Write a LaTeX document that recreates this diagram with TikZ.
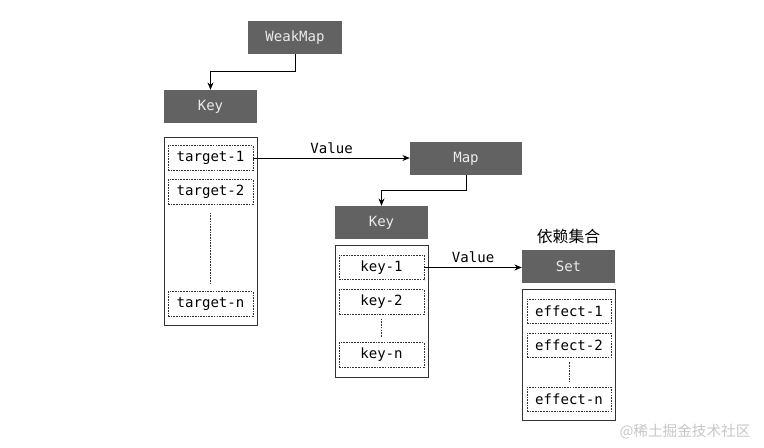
\documentclass[tikz,border=0pt]{standalone}
\usepackage{fontspec}
\setmonofont{DejaVu Sans Mono}
\newfontfamily\cjk{Noto Sans CJK SC}
\usepackage{xcolor}
\usetikzlibrary{arrows.meta}
\definecolor{boxgray}{HTML}{626262}
\definecolor{linegray}{HTML}{333333}
\tikzset{headbox/.style={fill=boxgray,draw=none,text=white!92!black,inner sep=0pt,
   minimum height=0.99cm,font=\ttfamily\fontsize{12}{14}\selectfont},
 listbox/.style={draw=linegray,line width=0.8pt,inner sep=0pt,minimum width=2.79cm},
 itembox/.style={draw=linegray,dash pattern=on 1.4pt off 0.9pt,line width=0.7pt,inner sep=0pt,
   minimum width=2.55cm,minimum height=0.74cm,font=\ttfamily\fontsize{12}{14}\selectfont},
 link/.style={draw=black,line width=0.8pt,-{Stealth[length=2.2mm,width=1.8mm]}},
 gap/.style={draw=linegray,dash pattern=on 1.4pt off 0.9pt,line width=0.7pt},
 }

\begin{document}
\begin{tikzpicture}[x=0.03cm,y=-0.03cm]
    \useasboundingbox (0,0) rectangle (764,447);
    % first level
    \node[headbox,minimum width=2.82cm] (weakmap) at (295,37.5) {WeakMap};
    \node[headbox,minimum width=2.79cm] (keyA) at (210.5,106.5) {Key};
    \node[listbox,minimum height=5.64cm] (listA) at (210.5,231) {};
    \node[itembox] (tgtA) at (210.5,158) {target-1};
    \node[itembox] (tgtB) at (210.5,192) {target-2};
    \node[itembox] (tgtN) at (210.5,304) {target-n};
    \draw[gap,shorten <=2.4mm,shorten >=2mm] (tgtB.south) -- (tgtN.north);
    % second level
    \node[headbox,minimum width=3.36cm] (map) at (466,158.5) {Map};
    \node[headbox,minimum width=2.79cm] (keyB) at (381.5,222.5) {Key};
    \node[listbox,minimum height=3.96cm] (listB) at (381.5,311) {};
    \node[itembox] (kA) at (381.5,267.5) {key-1};
    \node[itembox] (kB) at (381.5,302) {key-2};
    \node[itembox] (kN) at (381.5,355) {key-n};
    \draw[gap,shorten <=1.2mm,shorten >=1.5mm] (kB.south) -- (kN.north);
    % dependency set
    \node[headbox,minimum width=2.79cm] (set) at (568.5,266.5) {Set};
    \node[font=\cjk\fontsize{13.5}{15}\selectfont] (setname) at (568.5,236) {依赖集合};
    \node[listbox,minimum height=3.93cm] (listC) at (568.5,354.5) {};
    \node[itembox,minimum width=2.52cm] (eA) at (569,311.5) {effect-1};
    \node[itembox,minimum width=2.52cm] (eB) at (569,345.5) {effect-2};
    \node[itembox,minimum width=2.52cm] (eN) at (569,399.5) {effect-n};
    \draw[gap,shorten <=1.2mm,shorten >=1.5mm] (eB.south) -- (eN.north);
    % connectors
    \draw[link] (weakmap.south) -- ++(0,17.5) -| (keyA.north);
    \draw[link] (map.south) -- ++(0,15) -| (keyB.north);
    \draw[link] (tgtA.east) -- node[above,font=\ttfamily\fontsize{12}{14}\selectfont] {Value} (tgtA.east -| map.west);
    \draw[link] (kA.east) -- node[above,font=\ttfamily\fontsize{12}{14}\selectfont] {Value} (kA.east -| set.west);
    \node[text=black!22,font=\cjk\fontsize{12.5}{14}\selectfont] (mark) at (685,432) {@稀土掘金技术社区};
\end{tikzpicture}
\end{document}
